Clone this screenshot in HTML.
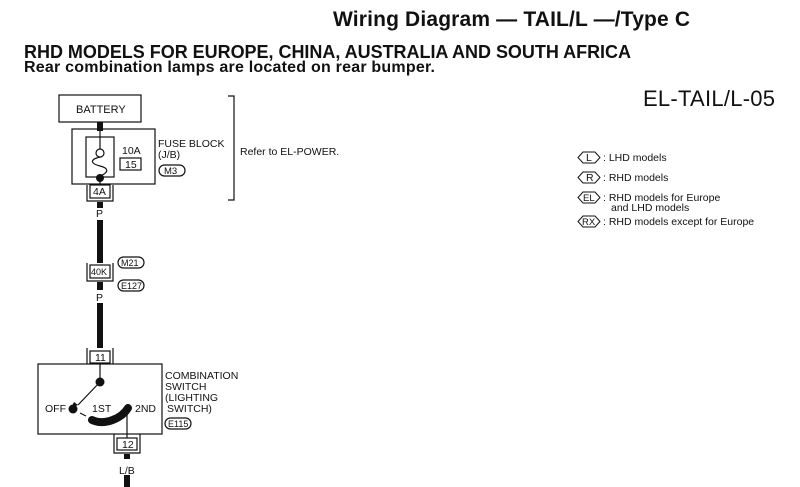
<!DOCTYPE html>
<html><head><style>body{margin:0;background:#fff}svg{display:block}</style></head><body>
<svg width="800" height="487" viewBox="0 0 800 487" xmlns="http://www.w3.org/2000/svg" font-family="Liberation Sans, sans-serif" fill="#111">
<text x="333" y="26" font-size="21" font-weight="bold" textLength="357">Wiring Diagram — TAIL/L —/Type C</text>
<text x="24" y="58" font-size="18" font-weight="bold" textLength="607">RHD MODELS FOR EUROPE, CHINA, AUSTRALIA AND SOUTH AFRICA</text>
<text x="24" y="72" font-size="16" font-weight="bold" textLength="411">Rear combination lamps are located on rear bumper.</text>
<text x="643" y="106" font-size="22" textLength="132">EL-TAIL/L-05</text>
<g stroke="#111" fill="none" stroke-width="1.2">
<rect x="59" y="95" width="82" height="27"/>
<rect x="72" y="129" width="83" height="55"/>
<rect x="86" y="137" width="28" height="40"/>
<rect x="120" y="158" width="21" height="12"/>
<path d="M228 96 H234 V200 H228"/>
<rect x="159" y="165" width="26" height="11" rx="5.5"/>
<rect x="118" y="257" width="26" height="11" rx="5.5"/>
<rect x="118" y="280" width="26" height="11" rx="5.5"/>
<rect x="165" y="418" width="26" height="11" rx="5.5"/>
<rect x="38" y="364" width="124" height="70"/>
<rect x="90" y="185" width="20" height="13"/><path d="M87 185 V201 H113 V185"/>
<rect x="90" y="265" width="20" height="13"/><path d="M87 263 V281 H113 V263"/>
<rect x="90" y="351" width="20" height="12"/><path d="M87 348 V364 M113 348 V364"/>
<rect x="117" y="438" width="20" height="12"/><path d="M114 434 V453 H140 V434"/>
<path d="M100 131 V149 M100 178 V185"/>
<path d="M100 157 C88 160 92 164 100 166 C108 168 110 172 100 176"/>
<path d="M100 364 V382 M100 382 L78 405 M127 410 V438 M80 413 L86 416"/>
</g>
<path d="M74 402 L78 405 L71 408 Z" fill="#111"/>
<g fill="#fff" stroke="#111" stroke-width="1.2"><circle cx="100" cy="153" r="4"/></g>
<circle cx="100" cy="178" r="4"/>
<circle cx="100" cy="382" r="4.5"/>
<circle cx="73" cy="409" r="4.5"/>
<path d="M92 420 C105 426 122 418 128 408" stroke="#111" stroke-width="8" fill="none" stroke-linecap="round"/>
<g fill="#111">
<rect x="97" y="122" width="6" height="9"/>
<rect x="97" y="202" width="6" height="6"/>
<rect x="97" y="220" width="6" height="43"/>
<rect x="97" y="282" width="6" height="8"/>
<rect x="97" y="303" width="6" height="45"/>
<rect x="124" y="454" width="6" height="5"/>
<rect x="124" y="475" width="6" height="12"/>
</g>
<g font-size="10.5">
<text x="76" y="113" font-size="11">BATTERY</text>
<text x="122" y="154">10A</text>
<text x="125" y="168">15</text>
<text x="158" y="147">FUSE BLOCK</text>
<text x="158" y="158">(J/B)</text>
<text x="164" y="174" font-size="9.5">M3</text>
<text x="240" y="155">Refer to EL-POWER.</text>
<text x="93" y="195">4A</text>
<text x="96" y="217">P</text>
<text x="91" y="275" font-size="9">40K</text>
<text x="121" y="266" font-size="9">M21</text>
<text x="121" y="289" font-size="9">E127</text>
<text x="96" y="301">P</text>
<text x="95" y="361">11</text>
<text x="122" y="448">12</text>
<text x="119" y="474">L/B</text>
<text x="45" y="412">OFF</text>
<text x="92" y="412">1ST</text>
<text x="135" y="412">2ND</text>
<text x="165" y="379">COMBINATION</text>
<text x="165" y="390">SWITCH</text>
<text x="165" y="401">(LIGHTING</text>
<text x="167" y="412">SWITCH)</text>
<text x="168" y="427" font-size="9">E115</text>
</g>
<g stroke="#111" stroke-width="1" fill="none">
<path d="M578 157.5 L583 152 H595 L600 157.5 L595 163 H583 Z"/>
<path d="M578 177.5 L583 172 H595 L600 177.5 L595 183 H583 Z"/>
<path d="M578 197.5 L583 192 H595 L600 197.5 L595 203 H583 Z"/>
<path d="M578 221.5 L583 216 H595 L600 221.5 L595 227 H583 Z"/>
</g>
<g font-size="10.5">
<text x="586" y="161">L</text><text x="603" y="161">: LHD models</text>
<text x="586" y="181">R</text><text x="603" y="181">: RHD models</text>
<text x="583" y="201" font-size="9.5">EL</text><text x="603" y="201">: RHD models for Europe</text>
<text x="611" y="211">and LHD models</text>
<text x="582" y="225" font-size="9.5">RX</text><text x="603" y="225">: RHD models except for Europe</text>
</g>
</svg>
</body></html>
